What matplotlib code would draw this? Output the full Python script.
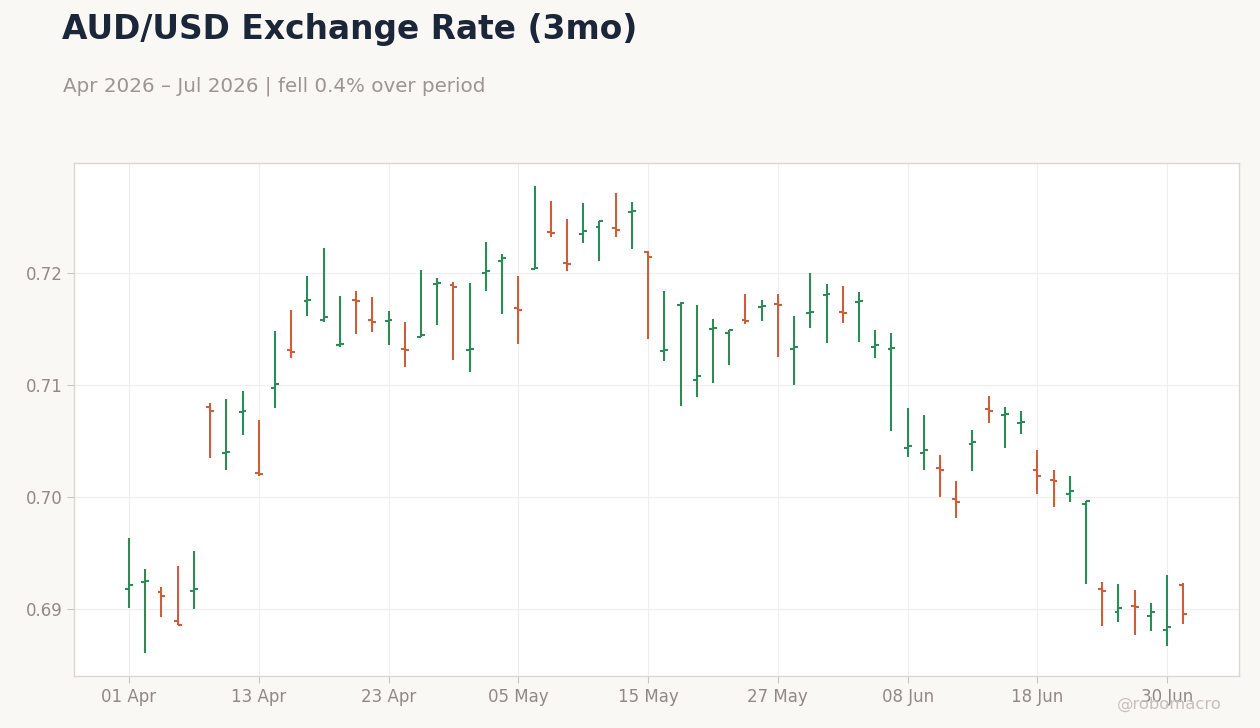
import matplotlib
matplotlib.use("Agg")
import matplotlib.pyplot as plt
import pandas as pd

# daily OHLC, business days from 01 Apr 2026
dates = pd.bdate_range("2026-04-01", periods=66)

opens = [0.6918, 0.6924, 0.6915, 0.6889, 0.6916, 0.7080, 0.7039, 0.7076, 0.7021, 0.7097,
         0.7131, 0.7175, 0.7158, 0.7135, 0.7176, 0.7158, 0.7157, 0.7132, 0.7143, 0.7190,
         0.7189, 0.7131, 0.7200, 0.7210, 0.7168, 0.7203, 0.7236, 0.7209, 0.7234, 0.7241,
         0.7240, 0.7254, 0.7218, 0.7130, 0.7171, 0.7104, 0.7150, 0.7146, 0.7158, 0.7169,
         0.7172, 0.7132, 0.7164, 0.7180, 0.7165, 0.7174, 0.7134, 0.7132, 0.7044, 0.7039,
         0.7026, 0.6998, 0.7047, 0.7078, 0.7073, 0.7066, 0.7024, 0.7015, 0.7003, 0.6994,
         0.6918, 0.6897, 0.6903, 0.6894, 0.6881, 0.6921]
highs = [0.6963, 0.6936, 0.6920, 0.6938, 0.6952, 0.7084, 0.7087, 0.7094, 0.7069, 0.7148,
         0.7167, 0.7197, 0.7222, 0.7179, 0.7184, 0.7178, 0.7166, 0.7156, 0.7202, 0.7195,
         0.7192, 0.7191, 0.7227, 0.7217, 0.7197, 0.7277, 0.7264, 0.7248, 0.7262, 0.7246,
         0.7271, 0.7263, 0.7219, 0.7184, 0.7174, 0.7171, 0.7159, 0.7149, 0.7181, 0.7176,
         0.7181, 0.7161, 0.7200, 0.7190, 0.7188, 0.7183, 0.7149, 0.7146, 0.7079, 0.7073,
         0.7037, 0.7014, 0.7060, 0.7090, 0.7080, 0.7077, 0.7042, 0.7024, 0.7019, 0.6996,
         0.6924, 0.6922, 0.6917, 0.6905, 0.6930, 0.6923]
lows = [0.6901, 0.6861, 0.6893, 0.6886, 0.6900, 0.7035, 0.7024, 0.7055, 0.7019, 0.7079,
        0.7124, 0.7161, 0.7156, 0.7134, 0.7145, 0.7147, 0.7135, 0.7116, 0.7143, 0.7153,
        0.7122, 0.7111, 0.7184, 0.7163, 0.7136, 0.7203, 0.7232, 0.7201, 0.7226, 0.7210,
        0.7232, 0.7221, 0.7141, 0.7121, 0.7081, 0.7089, 0.7102, 0.7118, 0.7154, 0.7157,
        0.7125, 0.7100, 0.7151, 0.7137, 0.7155, 0.7138, 0.7124, 0.7059, 0.7036, 0.7024,
        0.7000, 0.6981, 0.7023, 0.7066, 0.7044, 0.7056, 0.7003, 0.6991, 0.6995, 0.6922,
        0.6885, 0.6888, 0.6877, 0.6880, 0.6867, 0.6887]
closes = [0.6921, 0.6925, 0.6912, 0.6886, 0.6918, 0.7077, 0.7040, 0.7077, 0.7020, 0.7101,
          0.7129, 0.7176, 0.7160, 0.7136, 0.7175, 0.7156, 0.7158, 0.7131, 0.7144, 0.7191,
          0.7187, 0.7132, 0.7201, 0.7213, 0.7167, 0.7204, 0.7235, 0.7208, 0.7237, 0.7246,
          0.7238, 0.7255, 0.7214, 0.7131, 0.7173, 0.7108, 0.7151, 0.7149, 0.7157, 0.7170,
          0.7171, 0.7134, 0.7165, 0.7181, 0.7164, 0.7175, 0.7135, 0.7133, 0.7045, 0.7042,
          0.7024, 0.6995, 0.7049, 0.7077, 0.7074, 0.7067, 0.7019, 0.7014, 0.7005, 0.6996,
          0.6916, 0.6901, 0.6902, 0.6897, 0.6884, 0.6896]

UP = "#2e8b57"
DOWN = "#c9603d"
BG = "#f9f8f5"

fig = plt.figure(figsize=(12.6, 7.28), dpi=100, facecolor=BG)
ax = fig.add_axes([0.059, 0.071, 0.9246, 0.7055])
ax.set_facecolor("white")

x = list(range(len(dates)))
cols = [UP if c >= o else DOWN for o, c in zip(opens, closes)]
tw = 0.24
ax.vlines(x, lows, highs, colors=cols, linewidth=1.5, zorder=3)
ax.hlines(opens, [i - tw for i in x], x, colors=cols, linewidth=1.5, zorder=3)
ax.hlines(closes, x, [i + tw for i in x], colors=cols, linewidth=1.5, zorder=3)

ax.set_xlim(-3.37, 68.45)
ax.set_ylim(0.6840, 0.7298)

ticks = x[::8]
ax.set_xticks(ticks)
ax.set_xticklabels([dates[i].strftime("%d %b") for i in ticks])
ax.set_yticks([0.69, 0.70, 0.71, 0.72])
ax.set_yticklabels(["0.69", "0.70", "0.71", "0.72"])
ax.tick_params(colors="#c8c4bf", labelcolor="#8e8a86", labelsize=12, length=5, width=0.8)
ax.grid(True, color="#eeeeee", linewidth=0.8, zorder=0)
for s in ax.spines.values():
    s.set_color("#dcd7d0")
    s.set_linewidth(1)

fig.text(0.049, 0.96, "AUD/USD Exchange Rate (3mo)", fontsize=23.7, fontweight="bold",
         color="#1b2638", va="center", ha="left")
fig.text(0.05, 0.882, "Apr 2026 \u2013 Jul 2026 | fell 0.4% over period", fontsize=14.3,
         color="#9a9692", va="center", ha="left")
fig.text(0.97, 0.032, "@robomacro", fontsize=11.8, color="#c4c1bd", ha="right", va="center")

plt.savefig("out.png", facecolor=BG)
